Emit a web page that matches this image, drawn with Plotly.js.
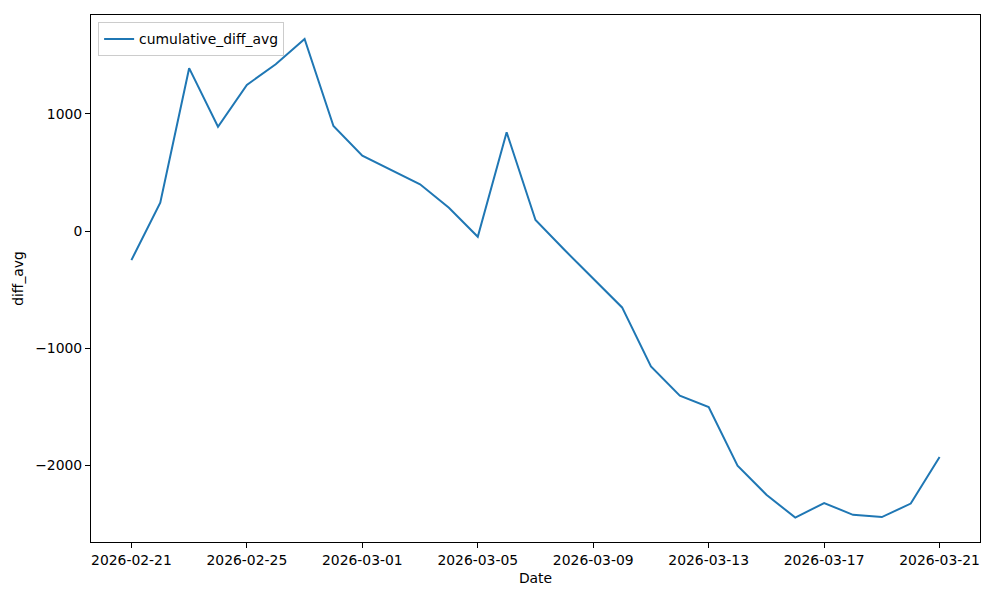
<!DOCTYPE html>
<html>
<head>
<meta charset="utf-8">
<script src="https://cdn.plot.ly/plotly-3.0.1.min.js"></script>
<style>html,body{margin:0;padding:0;background:#fff;}#chart{width:1000px;height:600px;}</style>
</head>
<body>
<div id="chart"></div>
<script>
const dates = [
  "2026-02-21","2026-02-22","2026-02-23","2026-02-24","2026-02-25","2026-02-26","2026-02-27",
  "2026-02-28","2026-03-01","2026-03-02","2026-03-03","2026-03-04","2026-03-05","2026-03-06",
  "2026-03-07","2026-03-08","2026-03-09","2026-03-10","2026-03-11","2026-03-12","2026-03-13",
  "2026-03-14","2026-03-15","2026-03-16","2026-03-17","2026-03-18","2026-03-19","2026-03-20",
  "2026-03-21"
];
const cumulativeDiffAvg = [
  -248, 242, 1391, 891, 1248, 1425, 1641,
  897, 643, 521, 400, 199, -49, 844,
  94, -160, -405, -652, -1156, -1406, -1502,
  -2003, -2251, -2447, -2322, -2423, -2442, -2327,
  -1929
];
const seriesName = "cumulative_diff_avg";
const xTickVals = ["2026-02-21","2026-02-25","2026-03-01","2026-03-05","2026-03-09","2026-03-13","2026-03-17","2026-03-21"];
const yTickVals = [-2000, -1000, 0, 1000];
const yTickText = ["\u22122000", "\u22121000", "0", "1000"];

const font = {family: "DejaVu Sans, sans-serif", size: 13.9, color: "#000"};

Plotly.newPlot("chart", [{
  x: dates,
  y: cumulativeDiffAvg,
  type: "scatter",
  mode: "lines",
  name: seriesName,
  line: {color: "#1f77b4", width: 2}
}], {
  width: 1000, height: 600,
  margin: {l: 91, r: 20, t: 15, b: 58},
  paper_bgcolor: "#fff", plot_bgcolor: "#fff",
  font: font,
  showlegend: true,
  legend: {
    x: 0.008, y: 0.986, xanchor: "left", yanchor: "top",
    bgcolor: "rgba(255,255,255,0.8)", bordercolor: "#cccccc", borderwidth: 1,
    font: font
  },
  xaxis: {
    type: "date",
    range: ["2026-02-19 14:24", "2026-03-22 09:36"],
    tickvals: xTickVals,
    tickformat: "%Y-%m-%d",
    ticks: "outside", ticklen: 5, tickwidth: 1, tickcolor: "#000",
    showline: true, linecolor: "#000", linewidth: 1, mirror: true,
    showgrid: false, zeroline: false,
    title: {text: "Date", font: font, standoff: 6},
    automargin: false
  },
  yaxis: {
    range: [-2655, 1845],
    tickvals: yTickVals, ticktext: yTickText,
    ticks: "outside", ticklen: 5, tickwidth: 1, tickcolor: "#000",
    showline: true, linecolor: "#000", linewidth: 1, mirror: true,
    showgrid: false, zeroline: false,
    title: {text: "diff_avg", font: font, standoff: 8},
    automargin: false
  }
}, {displayModeBar: false, staticPlot: true});
</script>
</body>
</html>
